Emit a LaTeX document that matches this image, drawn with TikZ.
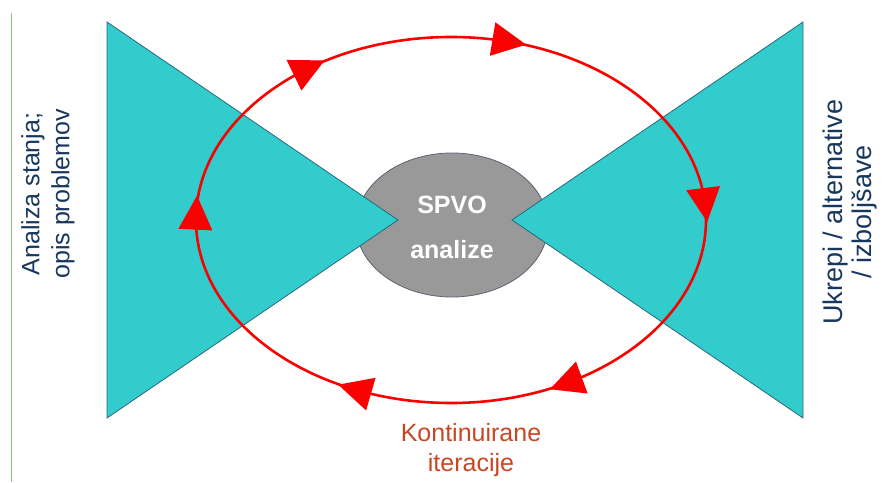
\documentclass[tikz,border=0pt]{standalone}
\usepackage{fontspec}
\setmainfont{Liberation Sans}
\definecolor{cyanfill}{RGB}{51,204,204}
\definecolor{tealedge}{RGB}{40,105,125}
\definecolor{grayfill}{RGB}{153,153,153}
\definecolor{grayedge}{RGB}{90,100,115}
\definecolor{loopred}{RGB}{250,0,0}
\definecolor{navytext}{RGB}{23,55,94}
\definecolor{orangetext}{RGB}{200,70,35}
\definecolor{greenline}{RGB}{135,200,125}
\begin{document}
\begin{tikzpicture}[x=1pt,y=1pt,
  tri/.style={fill=cyanfill, draw=tealedge, line width=0.8pt, line join=miter},
  hub/.style={fill=grayfill, draw=grayedge, line width=0.8pt},
  loopline/.style={draw=loopred, line width=2.6pt},
  loophead/.style={fill=loopred},
  hubtext/.style={text=white, font=\fontsize{25}{30}\selectfont\bfseries, inner sep=0pt},
  sidetext/.style={text=navytext, font=\fontsize{25}{30}\selectfont, align=center, rotate=90, inner sep=0pt},
  bottomtext/.style={text=orangetext, font=\fontsize{25}{30}\selectfont, align=center, inner sep=0pt}]
\useasboundingbox (0,0) rectangle (883,482);
% thin green rule at the left
\coordinate (gtop) at (11.5,469);
\coordinate (gbot) at (11.5,0);
\draw[greenline, line width=1.2pt] (gtop) -- (gbot);
% grey hub ellipse
\draw[hub] (452,257) ellipse [x radius=96, y radius=72];
% triangles
\draw[tri] (107,460) -- (107,64) -- (398,262) -- cycle;
\draw[tri] (803,460) -- (803,64) -- (512,262) -- cycle;
% red iteration loop
\draw[loopline] (451,262) ellipse [x radius=255, y radius=183];
\foreach \t in {124,77,5,-63,-112,178} {
  \pgfmathsetmacro\ang{atan2(-183*cos(\t), 255*sin(\t))}
  \fill[loophead, shift={({451+255*cos(\t)},{262+183*sin(\t)})}, rotate=\ang]
    (18,0) -- (-16,17) -- (-16,-17) -- cycle;
}
% texts
\node[hubtext] (spvo) at (452,277) {SPVO};
\node[hubtext] (analize) at (452,232) {analize};
\node[sidetext] (left) at (48,288) {Analiza stanja;\\opis problemov};
\node[sidetext, font=\fontsize{27}{29}\selectfont] (right) at (850,270) {Ukrepi / alternative\\/ izboljšave};
\node[bottomtext] (iter) at (471,32) {Kontinuirane\\iteracije};
\end{tikzpicture}
\end{document}
